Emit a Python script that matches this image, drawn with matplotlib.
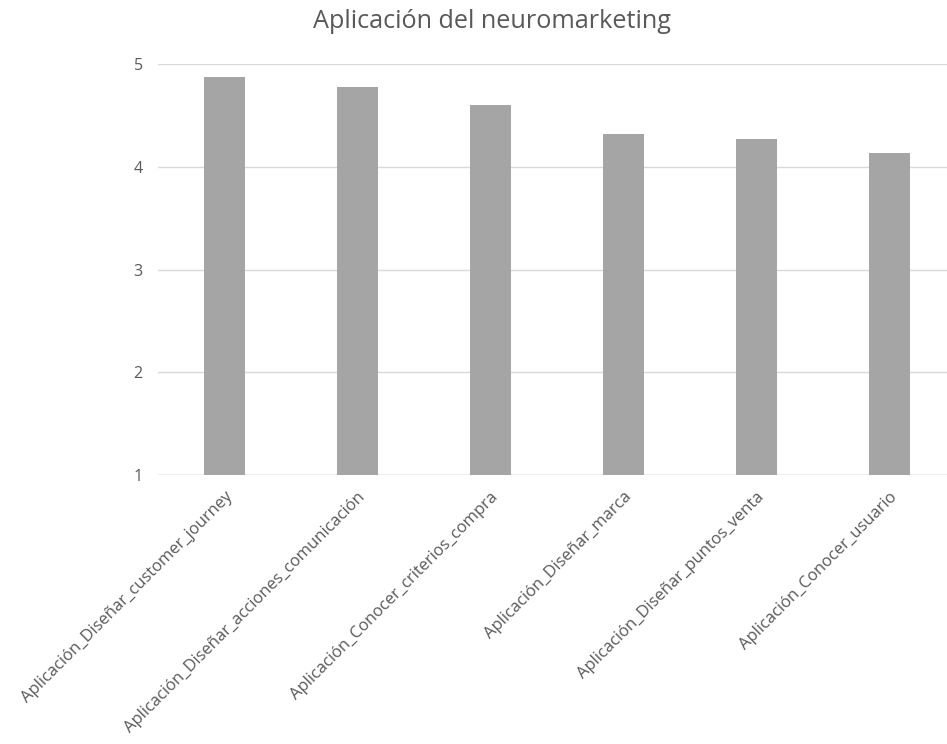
import matplotlib
matplotlib.use("Agg")
import matplotlib.pyplot as plt

categories = [
    "Aplicación_Diseñar_customer_journey",
    "Aplicación_Diseñar_acciones_comunicación",
    "Aplicación_Conocer_criterios_compra",
    "Aplicación_Diseñar_marca",
    "Aplicación_Diseñar_puntos_venta",
    "Aplicación_Conocer_usuario",
]
values = [4.877, 4.773, 4.604, 4.318, 4.27, 4.133]
yticks = [1, 2, 3, 4, 5]
title = "Aplicación del neuromarketing"

plt.rcParams["font.family"] = ["Open Sans", "DejaVu Sans"]
text_color = "#595959"

fig = plt.figure(figsize=(9.47, 7.44), dpi=100)
ax = fig.add_axes([158 / 947, 1 - 475 / 744, 1 - 158 / 947, (475 - 64) / 744])

x = list(range(len(categories)))
ax.bar(x, [v - 1 for v in values], bottom=1, width=0.31, color="#a5a5a5", zorder=3)

ax.set_ylim(1, 5)
ax.set_xlim(-0.5, -0.5 + 789 / 133)
ax.set_yticks(yticks)
ax.set_yticklabels([str(t) for t in yticks], fontsize=11.5, color=text_color)
ax.yaxis.grid(True, color="#d9d9d9", linewidth=1, zorder=0)
ax.set_xticks(x)
ax.set_xticklabels(categories, rotation=45, ha="right", rotation_mode="anchor",
                   fontsize=12, color=text_color)
ax.tick_params(axis="both", length=0)
ax.tick_params(axis="y", pad=11)
ax.tick_params(axis="x", pad=10)
for s in ax.spines.values():
    s.set_visible(False)
ax.axhline(1, color="#d0d0d0", linewidth=1, zorder=1)

fig.text(492 / 947, 1 - 22 / 744, title, ha="center", va="center",
         fontsize=18.2, color=text_color)

fig.savefig("out.png", dpi=100)
